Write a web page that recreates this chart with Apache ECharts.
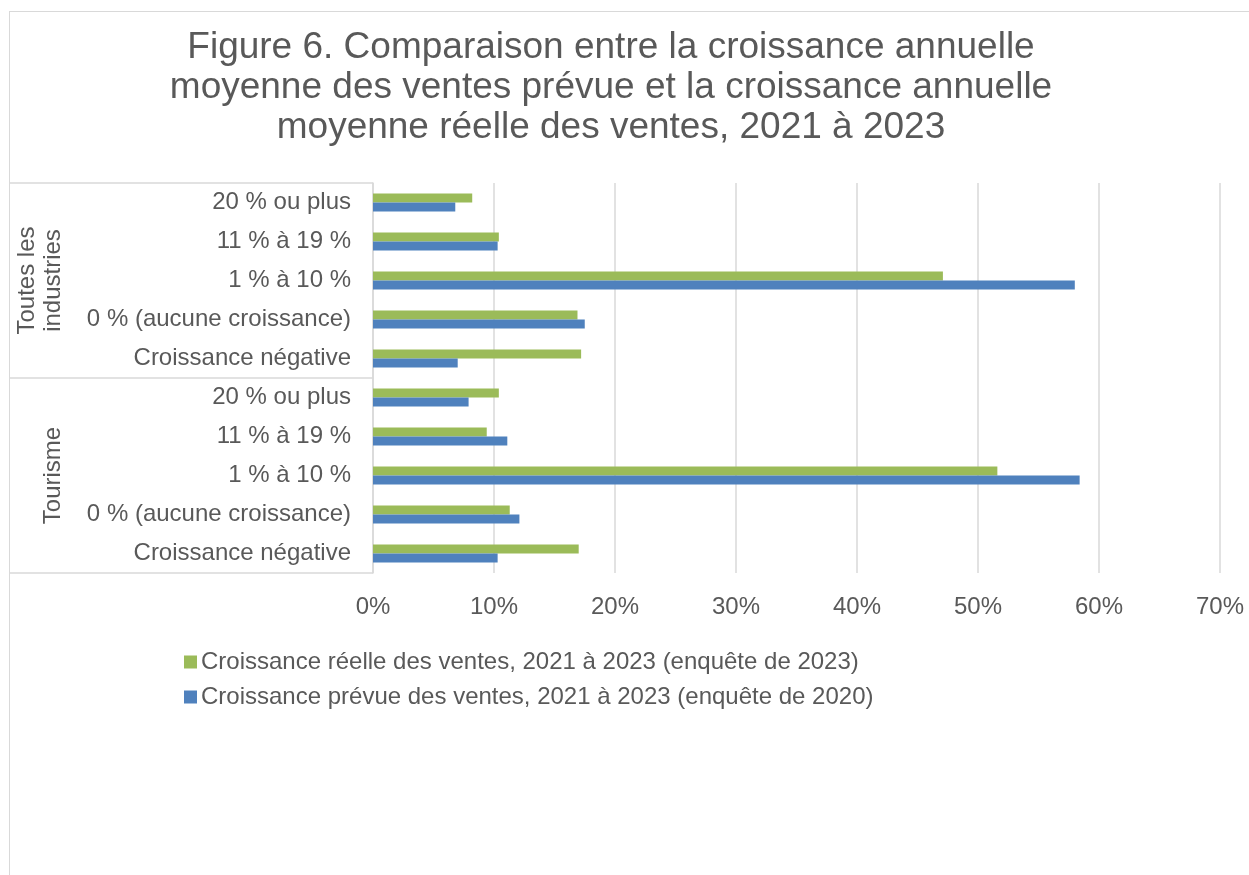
<!DOCTYPE html>
<html>
<head>
<meta charset="utf-8">
<script src="https://cdn.jsdelivr.net/npm/echarts@6/dist/echarts.min.js"></script>
<style>
  html, body { margin: 0; padding: 0; background: #fff; }
  #chart { position: absolute; left: 0; top: 0; width: 1249px; height: 875px; }
  .frame {
    position: absolute; left: 9px; top: 11px; width: 1300px; height: 900px;
    border: 1px solid #d9d9d9; pointer-events: none;
  }
</style>
</head>
<body>
<div id="chart"></div>
<div class="frame"></div>
<script>
// catégories, de haut en bas
const groups = ["Toutes les\nindustries", "Tourisme"]
const categories = [
  "20 % ou plus", "11 % à 19 %", "1 % à 10 %", "0 % (aucune croissance)", "Croissance négative",
  "20 % ou plus", "11 % à 19 %", "1 % à 10 %", "0 % (aucune croissance)", "Croissance négative"
]
const seriesNames = [
  "Croissance réelle des ventes, 2021 à 2023 (enquête de 2023)",
  "Croissance prévue des ventes, 2021 à 2023 (enquête de 2020)"
]
// valeurs en %
const reelle = [8.2, 10.4, 47.1, 16.9, 17.2, 10.4, 9.4, 51.6, 11.3, 17.0]
const prevue = [6.8, 10.3, 58.0, 17.5, 7.0, 7.9, 11.1, 58.4, 12.1, 10.3]

const COLORS = ["#9BBB59", "#4F81BD"]
const TEXT = "#595959"
const LINE = "#d9d9d9"
const FONT = "Liberation Sans, Arial, sans-serif"
const GROUP_SIZE = 5

const chart = echarts.init(document.getElementById("chart"))

chart.setOption({
  animation: false,
  textStyle: { fontFamily: FONT, color: TEXT },
  title: {
    text: "Figure 6. Comparaison entre la croissance annuelle\nmoyenne des ventes prévue et la croissance annuelle\nmoyenne réelle des ventes, 2021 à 2023",
    left: 611,
    top: 28,
    padding: 0,
    textAlign: "center",
    textStyle: {
      fontFamily: FONT,
      fontSize: 37,
      fontWeight: "normal",
      color: TEXT,
      lineHeight: 40
    }
  },
  legend: {
    orient: "vertical",
    left: 184,
    top: 650,
    padding: 0,
    itemGap: 11,
    itemWidth: 13,
    itemHeight: 13,
    icon: "rect",
    textStyle: { fontFamily: FONT, fontSize: 24, color: TEXT, padding: [0, 0, 0, -1] },
    data: seriesNames
  },
  grid: {
    left: 373,
    right: 29,
    top: 183,
    bottom: 302,
    containLabel: false,
    outerBoundsMode: "none"
  },
  xAxis: {
    type: "value",
    min: 0,
    max: 70,
    interval: 10,
    axisLine: { show: false },
    axisTick: { show: false },
    splitLine: { lineStyle: { color: LINE, width: 1.5 } },
    axisLabel: {
      formatter: "{value}%",
      fontSize: 24,
      color: TEXT,
      margin: 22
    }
  },
  yAxis: [
    {
      type: "category",
      inverse: true,
      data: categories,
      axisLine: { lineStyle: { color: LINE, width: 1.5 } },
      // traits de séparation des groupes, jusqu'au bord gauche
      axisTick: {
        show: true,
        length: 364,
        interval: (index) => index % GROUP_SIZE === 0,
        lineStyle: { color: LINE, width: 1.5 }
      },
      axisLabel: { fontSize: 24, color: TEXT, margin: 22 }
    },
    {
      // étiquettes des groupes
      type: "category",
      inverse: true,
      data: groups,
      position: "left",
      offset: 305,
      axisLine: { show: false },
      axisTick: { show: false },
      axisLabel: {
        rotate: 90,
        margin: 2,
        fontSize: 24,
        lineHeight: 26,
        color: TEXT,
        align: "center"
      }
    }
  ],
  series: [
    {
      name: seriesNames[0],
      type: "bar",
      yAxisIndex: 0,
      data: reelle,
      barWidth: 9,
      barGap: "0%",
      itemStyle: { color: COLORS[0] }
    },
    {
      name: seriesNames[1],
      type: "bar",
      yAxisIndex: 0,
      data: prevue,
      barWidth: 9,
      barGap: "0%",
      itemStyle: { color: COLORS[1] }
    }
  ]
})
</script>
</body>
</html>
